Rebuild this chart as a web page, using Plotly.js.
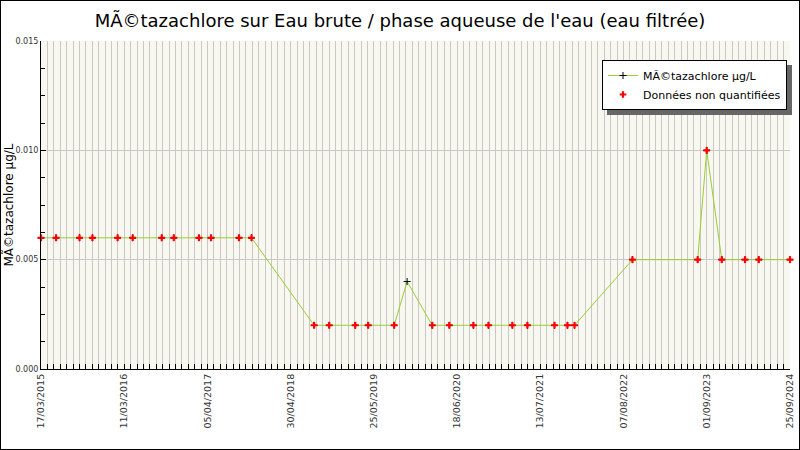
<!DOCTYPE html>
<html><head><meta charset="utf-8">
<script src="https://cdn.plot.ly/plotly-3.0.1.min.js"></script>
<style>
body{margin:0;background:#fff}
#chart{width:798px;height:448px;border:1px solid #000}
</style>
</head><body><div id="chart"></div>
<script>
// Sample dates
const dates = [
  '2015-03-17','2015-05-26','2015-09-12','2015-11-11','2016-03-07','2016-05-16',
  '2016-09-28','2016-11-23','2017-03-20','2017-05-15','2017-09-22','2017-11-19',
  '2018-09-06','2018-11-15','2019-03-16','2019-05-15','2019-09-13','2019-11-12',
  '2020-03-08','2020-05-26','2020-09-15','2020-11-24','2021-03-15','2021-05-24',
  '2021-09-27','2021-11-26','2021-12-29','2022-09-24','2023-07-24','2023-09-04',
  '2023-11-13','2024-02-29','2024-05-03','2024-09-25'
];
// Measured values, µg/L
const values = [
  0.006,0.006,0.006,0.006,0.006,0.006,
  0.006,0.006,0.006,0.006,0.006,0.006,
  0.002,0.002,0.002,0.002,0.002,0.004,
  0.002,0.002,0.002,0.002,0.002,0.002,
  0.002,0.002,0.002,0.005,0.005,0.010,
  0.005,0.005,0.005,0.005
];
// 1 = not quantified (below limit), 0 = quantified
const notQuantified = [
  1,1,1,1,1,1,
  1,1,1,1,1,1,
  1,1,1,1,1,0,
  1,1,1,1,1,1,
  1,1,1,1,1,1,
  1,1,1,1
];
const tickLabels = ['17/03/2015','11/03/2016','05/04/2017','30/04/2018','25/05/2019',
  '18/06/2020','13/07/2021','07/08/2022','01/09/2023','25/09/2024'];
const yTicks = [0, 0.005, 0.010, 0.015];

const startMs = Date.parse(dates[0] + 'T00:00:00Z');
const endMs = Date.parse(dates[dates.length - 1] + 'T00:00:00Z');
const span = endMs - startMs;
const tickVals = tickLabels.map((_, i) => startMs + i * span / (tickLabels.length - 1));
const nqX = dates.filter((_, i) => notQuantified[i]);
const nqY = values.filter((_, i) => notQuantified[i]);

const traces = [
  {x: dates, y: values, type: 'scatter', mode: 'lines+markers', name: 'MÃ©tazachlore µg/L', cliponaxis: false,
    line: {color: '#9acd32', width: 1}, marker: {symbol: 'cross-thin', size: 5, color: '#000', line: {color: '#000', width: 1}}},
  {x: nqX, y: nqY, type: 'scatter', mode: 'markers', name: 'Données non quantifiées', cliponaxis: false,
    marker: {symbol: 'cross', size: 5.5, color: '#ff0000', line: {width: 0}}}
];
const M = {l: 40, r: 9, t: 40, b: 80};
const W = 798, H = 448;
const PW = W - M.l - M.r, PH = H - M.t - M.b;
// legend box (div pixels) and its drop shadow offset
const LEG = {left: 601, top: 59, w: 185, h: 50, off: 5};
const layout = {
  width: W, height: H, margin: {l: M.l, r: M.r, t: M.t, b: M.b, pad: 0},
  paper_bgcolor: '#ffffff', plot_bgcolor: '#f8f8f0', font: {family: 'DejaVu Sans', color: '#222'},
  title: {text: 'MÃ©tazachlore sur Eau brute / phase aqueuse de l\'eau (eau filtrée)',
    font: {family: 'DejaVu Sans', size: 18, color: '#000'}, x: 0.5, xanchor: 'center', y: 0.955, yanchor: 'middle'},
  showlegend: true,
  legend: {x: (LEG.left - M.l) / PW, y: 1 - (LEG.top - M.t) / PH, xanchor: 'left', yanchor: 'top', bgcolor: '#ffffff',
    bordercolor: '#000', borderwidth: 1, font: {family: 'DejaVu Sans', size: 11, color: '#000'}, tracegroupgap: 0, itemwidth: 30},
  xaxis: {type: 'date', range: [startMs, endMs], tickmode: 'array', tickvals: tickVals, ticktext: tickLabels,
    tickangle: -90, tickfont: {family: 'DejaVu Sans', size: 9.5, color: '#333'},
    ticks: 'inside', ticklen: 5, tickcolor: '#000', showline: true, linecolor: '#000', linewidth: 1,
    showgrid: true, gridcolor: '#c8c8c8', gridwidth: 1, zeroline: false, fixedrange: true,
    minor: {tick0: startMs, dtick: span / 117, ticks: 'inside', ticklen: 5, tickcolor: '#000', showgrid: true, gridcolor: '#c8c8c8', gridwidth: 1}},
  yaxis: {range: [0, 0.015], tickmode: 'array', tickvals: yTicks, tickformat: '.3f',
    tickfont: {family: 'DejaVu Sans', size: 8, color: '#333'},
    ticks: 'inside', ticklen: 5, tickcolor: '#000', showline: true, linecolor: '#000', linewidth: 1,
    showgrid: true, gridcolor: '#c8c8c8', gridwidth: 1, zeroline: false, fixedrange: true,
    minor: {tick0: 0, dtick: 0.00125, ticks: 'inside', ticklen: 4, tickcolor: '#000', showgrid: false},
    title: {text: 'MÃ©tazachlore µg/L', font: {family: 'DejaVu Sans', size: 12, color: '#000'}, standoff: 0}, automargin: false},
  shapes: [
    {type: 'rect', xref: 'paper', yref: 'paper', layer: 'above',
    x0: (LEG.left + LEG.off - M.l) / PW, x1: (LEG.left + LEG.w + LEG.off - M.l) / PW,
    y0: 1 - (LEG.top + LEG.off - M.t) / PH, y1: 1 - (LEG.top + LEG.h + LEG.off - M.t) / PH,
    fillcolor: '#666666', line: {width: 0}}]
};
Plotly.newPlot('chart', traces, layout, {displayModeBar: false, staticPlot: true});
</script>
</body></html>
